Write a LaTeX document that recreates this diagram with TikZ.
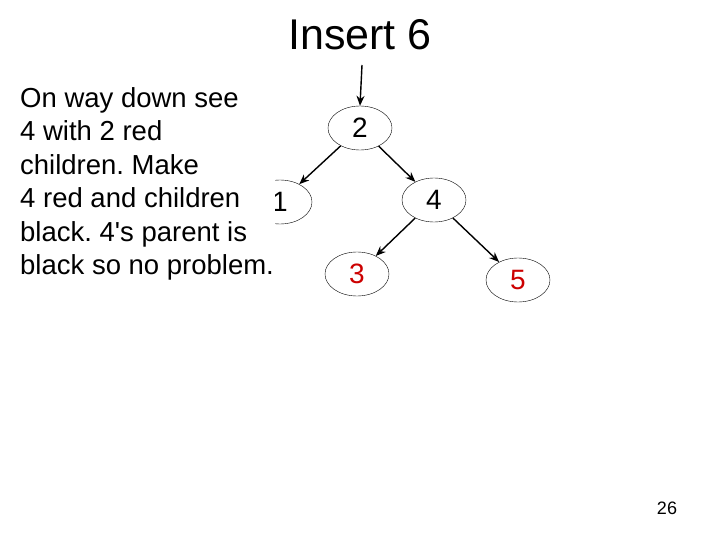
\documentclass[tikz,border=0pt]{standalone}
\usepackage{fontspec}
\setmainfont[Mapping=]{Liberation Sans}
\usetikzlibrary{shapes.geometric,arrows.meta}
\begin{document}
\frenchspacing
\begin{tikzpicture}[x=1pt,y=-1pt,
  nd/.style={ellipse,draw,thin,minimum width=64pt,minimum height=44pt,inner sep=0pt,font=\fontsize{28}{28}\selectfont},
  arr/.style={-{Stealth[length=10pt,width=8pt]},line width=1.4pt}]
\useasboundingbox (0,0) rectangle (720,540);
\node[font=\fontsize{43}{43}\selectfont] (title) at (360,35) {Insert 6};
\node (n1) [nd] at (280,202) {1};
\node[anchor=north west,align=left,fill=white,inner sep=1pt,font=\fontsize{27.5}{33.5}\selectfont] (txt) at (19,86) {On way down see\\4 with 2 red\\children. Make\\4 red and children\\black. 4\textquotesingle s parent is\\black so no problem.};
\node (n2) [nd] at (360,128) {2};
\node (n4) [nd] at (434,200) {4};
\node (n3) [nd,text=red!80!black] at (357,274) {3};
\node (n5) [nd,text=red!80!black] at (518,280) {5};
\coordinate (top) at (362,65);
\draw[arr] (top) -- (n2.north);
\draw[arr] (n2) -- (n1);
\draw[arr] (n2) -- (n4);
\draw[arr] (n4) -- (n3);
\draw[arr] (n4) -- (n5);
\node[font=\fontsize{18}{18}\selectfont] (pg) at (667,508) {26};
\end{tikzpicture}
\end{document}
